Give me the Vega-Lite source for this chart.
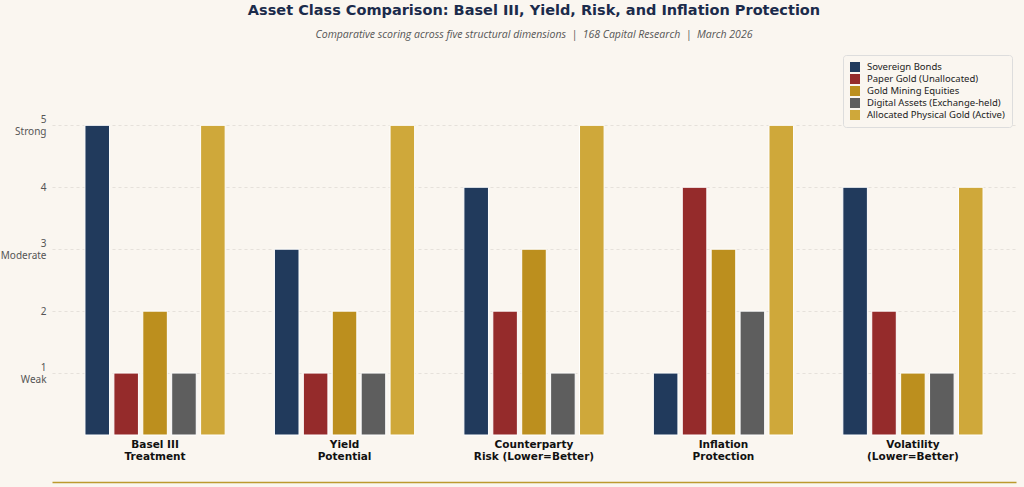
{
  "$schema": "https://vega.github.io/schema/vega-lite/v6.json",
  "width": 964,
  "height": 384,
  "padding": {"left": 52, "top": 51, "right": 8, "bottom": 52},
  "autosize": {"type": "none"},
  "background": "#faf6f0",
  "title": {
    "text": "Asset Class Comparison: Basel III, Yield, Risk, and Inflation Protection",
    "subtitle": "Comparative scoring across five structural dimensions \u00a0|\u00a0 168 Capital Research \u00a0|\u00a0 March 2026",
    "font": "DejaVu Sans",
    "fontSize": 14.5,
    "fontWeight": "bold",
    "color": "#1b2b4b",
    "subtitleFont": "Open Sans",
    "subtitleFontStyle": "italic",
    "subtitleFontSize": 10.5,
    "subtitleColor": "#555555",
    "subtitlePadding": 11,
    "anchor": "middle",
    "frame": "group",
    "offset": 10
  },
  "data": {
    "values": [
      {"dimension": "Basel III Treatment", "asset": "Sovereign Bonds", "score": 5},
      {"dimension": "Basel III Treatment", "asset": "Paper Gold (Unallocated)", "score": 1},
      {"dimension": "Basel III Treatment", "asset": "Gold Mining Equities", "score": 2},
      {"dimension": "Basel III Treatment", "asset": "Digital Assets (Exchange-held)", "score": 1},
      {"dimension": "Basel III Treatment", "asset": "Allocated Physical Gold (Active)", "score": 5},
      {"dimension": "Yield Potential", "asset": "Sovereign Bonds", "score": 3},
      {"dimension": "Yield Potential", "asset": "Paper Gold (Unallocated)", "score": 1},
      {"dimension": "Yield Potential", "asset": "Gold Mining Equities", "score": 2},
      {"dimension": "Yield Potential", "asset": "Digital Assets (Exchange-held)", "score": 1},
      {"dimension": "Yield Potential", "asset": "Allocated Physical Gold (Active)", "score": 5},
      {"dimension": "Counterparty Risk (Lower=Better)", "asset": "Sovereign Bonds", "score": 4},
      {"dimension": "Counterparty Risk (Lower=Better)", "asset": "Paper Gold (Unallocated)", "score": 2},
      {"dimension": "Counterparty Risk (Lower=Better)", "asset": "Gold Mining Equities", "score": 3},
      {"dimension": "Counterparty Risk (Lower=Better)", "asset": "Digital Assets (Exchange-held)", "score": 1},
      {"dimension": "Counterparty Risk (Lower=Better)", "asset": "Allocated Physical Gold (Active)", "score": 5},
      {"dimension": "Inflation Protection", "asset": "Sovereign Bonds", "score": 1},
      {"dimension": "Inflation Protection", "asset": "Paper Gold (Unallocated)", "score": 4},
      {"dimension": "Inflation Protection", "asset": "Gold Mining Equities", "score": 3},
      {"dimension": "Inflation Protection", "asset": "Digital Assets (Exchange-held)", "score": 2},
      {"dimension": "Inflation Protection", "asset": "Allocated Physical Gold (Active)", "score": 5},
      {"dimension": "Volatility (Lower=Better)", "asset": "Sovereign Bonds", "score": 4},
      {"dimension": "Volatility (Lower=Better)", "asset": "Paper Gold (Unallocated)", "score": 2},
      {"dimension": "Volatility (Lower=Better)", "asset": "Gold Mining Equities", "score": 1},
      {"dimension": "Volatility (Lower=Better)", "asset": "Digital Assets (Exchange-held)", "score": 1},
      {"dimension": "Volatility (Lower=Better)", "asset": "Allocated Physical Gold (Active)", "score": 4}
    ]
  },
  "layer": [
    {
      "mark": {"type": "bar", "stroke": "#ffffff", "strokeWidth": 1},
      "encoding": {
        "x": {
          "field": "dimension",
          "type": "nominal",
          "sort": null,
          "scale": {"paddingInner": 0.26, "paddingOuter": 0.174},
          "axis": {
            "title": null,
            "orient": "bottom",
            "labelAngle": 0,
            "labelFont": "DejaVu Sans",
            "labelFontWeight": "bold",
            "labelFontSize": 10.5,
            "labelColor": "#111111",
            "labelPadding": 4,
            "labelLineHeight": 12.5,
            "domain": false,
            "ticks": false,
            "grid": false,
            "labelExpr": "datum.label == 'Basel III Treatment' ? ['Basel III', 'Treatment'] : datum.label == 'Yield Potential' ? ['Yield', 'Potential'] : datum.label == 'Counterparty Risk (Lower=Better)' ? ['Counterparty', 'Risk (Lower=Better)'] : datum.label == 'Inflation Protection' ? ['Inflation', 'Protection'] : ['Volatility', '(Lower=Better)']"
          }
        },
        "xOffset": {
          "field": "asset",
          "type": "nominal",
          "sort": ["Sovereign Bonds", "Paper Gold (Unallocated)", "Gold Mining Equities", "Digital Assets (Exchange-held)", "Allocated Physical Gold (Active)"],
          "scale": {"paddingInner": 0.15, "paddingOuter": 0}
        },
        "y": {
          "field": "score",
          "type": "quantitative",
          "scale": {"domain": [0, 6.2], "nice": false},
          "axis": {
            "title": null,
            "values": [1, 2, 3, 4, 5],
            "domain": false,
            "ticks": false,
            "grid": true,
            "labelFont": "Noto Sans",
            "labelFontSize": 10,
            "labelColor": "#555555",
            "labelPadding": 6,
            "labelLineHeight": 12,
            "labelBaseline": "middle",
            "labelOffset": {"condition": {"test": "datum.value == 1 || datum.value == 3 || datum.value == 5", "value": -6}, "value": 0},
            "labelExpr": "datum.value == 5 ? ['5', 'Strong'] : datum.value == 3 ? ['3', 'Moderate'] : datum.value == 1 ? ['1', 'Weak'] : datum.label",
            "gridColor": "#d8d4cc",
            "gridDash": [3, 3],
            "gridWidth": 0.6
          }
        },
        "color": {
          "field": "asset",
          "type": "nominal",
          "sort": ["Sovereign Bonds", "Paper Gold (Unallocated)", "Gold Mining Equities", "Digital Assets (Exchange-held)", "Allocated Physical Gold (Active)"],
          "scale": {
            "domain": ["Sovereign Bonds", "Paper Gold (Unallocated)", "Gold Mining Equities", "Digital Assets (Exchange-held)", "Allocated Physical Gold (Active)"],
            "range": ["#213a5c", "#952b2b", "#bc8f1e", "#5e5e5e", "#cfa83a"]
          },
          "legend": {
            "title": null,
            "orient": "top-right",
            "offset": 4,
            "symbolType": "square",
            "symbolSize": 100,
            "symbolStrokeWidth": 0,
            "labelFont": "Noto Sans",
            "labelFontSize": 9.5,
            "labelOffset": 7,
            "labelColor": "#222222",
            "rowPadding": 2,
            "padding": 7,
            "fillColor": "#faf6f0",
            "strokeColor": "#dddddd",
            "cornerRadius": 3
          }
        }
      }
    },
    {
      "mark": {"type": "point", "opacity": 0},
      "encoding": {
        "x": {
          "field": "dimension",
          "type": "nominal",
          "sort": null,
          "axis": {
            "title": null,
            "orient": "bottom",
            "labels": false,
            "ticks": false,
            "grid": false,
            "domain": true,
            "domainColor": "#bc9a2e",
            "domainWidth": 1.5,
            "offset": 47
          }
        }
      }
    }
  ],
  "resolve": {"axis": {"x": "independent"}},
  "config": {
    "view": {"stroke": null}
  }
}
